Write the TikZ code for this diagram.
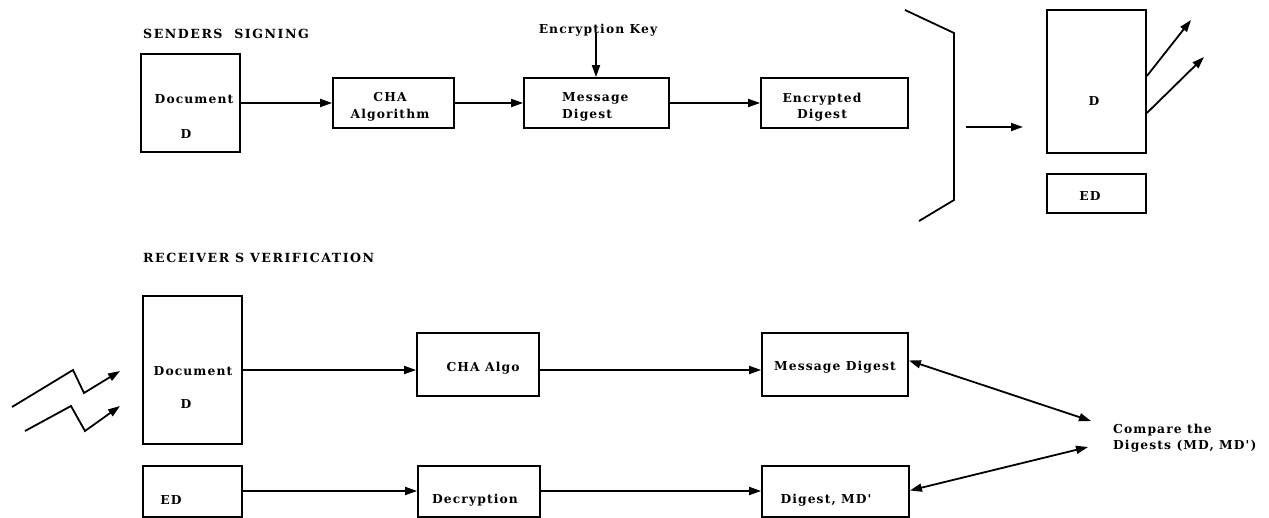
\documentclass[tikz,border=0pt]{standalone}
\usepackage{fontspec}
\usetikzlibrary{arrows.meta}
\newfontfamily\lblfont{DejaVu Serif}[LetterSpace=9]
\newfontfamily\headfont{DejaVu Serif}[LetterSpace=12]
\begin{document}
\begin{tikzpicture}[x=1pt,y=-1pt,
  every node/.style={font=\lblfont\bfseries\fontsize{12.3}{16.5}\selectfont, inner sep=0pt},
  box/.style={draw, line width=1.8pt, rectangle},
  lbl/.style={},
  head/.style={font=\headfont\bfseries\fontsize{12.6}{16}\selectfont},
  conn/.style={line width=1.8pt, -{Triangle[length=12pt,width=8pt]}},
  dconn/.style={line width=1.8pt, {Triangle[length=12pt,width=8pt]}-{Triangle[length=12pt,width=8pt]}},
  plain/.style={line width=1.8pt, line join=miter}]
\useasboundingbox (0,0) rectangle (1269,518);
\newcommand{\bx}[5]{\node[box, minimum width={#4-#2}, minimum height={#5-#3}] (#1) at ({(#2+#4)/2},{(#3+#5)/2}) {};}

% ---------- sender's side ----------
\node[head, anchor=west] (ttop) at (143,34) {SENDERS\ \ SIGNING};

\bx{doc1}{141}{54}{240}{152}
\node[lbl] (doc1t) at (194,99) {Document};
\node[lbl] (doc1d) at (186,134) {D};

\bx{cha1}{333}{78}{454}{128}
\node[lbl, align=center] (cha1t) at (390,107) {CHA\\Algorithm};

\bx{md1}{524}{78}{669}{128}
\node[lbl, align=left, anchor=west] (md1t) at (562,107) {Message\\Digest};

\bx{enc1}{761}{78}{908}{128}
\node[lbl, align=center] (enc1t) at (822,107) {Encrypted\\Digest};

\node[lbl] (key) at (598,30) {Encryption Key};
\coordinate (keyin) at (596,33);

\draw[conn] (doc1.east) -- (cha1.west);
\draw[conn] (cha1.east) -- (md1.west);
\draw[conn] (md1.east) -- (enc1.west);
\draw[conn] (keyin) -- (keyin |- md1.north);

% bracket and transmitted bundle
\coordinate (brA) at (905,10);
\coordinate (brB) at (954,33);
\coordinate (brC) at (954,200);
\coordinate (brD) at (919,221);
\draw[plain] (brA) -- (brB) -- (brC) -- (brD);

\coordinate (sendA) at (966,127);
\coordinate (sendB) at (1023,127);
\draw[conn] (sendA) -- (sendB);

\bx{dbox}{1047}{10}{1146}{153}
\node[lbl] (dboxt) at (1094,101) {D};
\bx{edbox}{1047}{174}{1146}{213}
\node[lbl] (edboxt) at (1090,196) {ED};

\coordinate (outA) at (1191,20);
\coordinate (outB) at (1204,57);
\draw[conn] ([yshift=5.5pt]dbox.east) -- (outA);
\draw[conn] ([yshift=-31.5pt]dbox.east) -- (outB);

% ---------- receiver's side ----------
\node[head, anchor=west] (tbot) at (143,258) {RECEIVER S VERIFICATION};

\bx{doc2}{143}{296}{242}{444}
\node[lbl] (doc2t) at (193,371) {Document};
\node[lbl] (doc2d) at (186,404) {D};

\bx{cha2}{417}{333}{539}{396}
\node[lbl] (cha2t) at (483,368) {CHA Algo};

\bx{md2}{762}{333}{908}{396}
\node[lbl] (md2t) at (835,367) {Message Digest};

\bx{ed2}{143}{466}{242}{517}
\node[lbl] (ed2t) at (171,500) {ED};

\bx{dec}{418}{466}{540}{517}
\node[lbl] (dect) at (475,500) {Decryption};

\bx{mdp}{762}{466}{909}{517}
\node[lbl] (mdpt) at (826,500) {Digest, MD'};

\draw[conn] (doc2.east) -- (cha2.west |- doc2.east);
\draw[conn] (cha2.east |- doc2.east) -- (md2.west |- doc2.east);
\draw[conn] ([yshift=0.5pt]ed2.east) -- ([yshift=0.5pt]dec.west);
\draw[conn] ([yshift=0.5pt]dec.east) -- ([yshift=0.5pt]mdp.west);

% incoming signals
\coordinate (zA1) at (12,407);
\coordinate (zA2) at (73,370);
\coordinate (zA3) at (84,393);
\coordinate (zA4) at (120,371);
\coordinate (zB1) at (25,431);
\coordinate (zB2) at (71,406);
\coordinate (zB3) at (85,431);
\coordinate (zB4) at (120,406);
\draw[conn, line join=miter] (zA1) -- (zA2) -- (zA3) -- (zA4);
\draw[conn, line join=miter] (zB1) -- (zB2) -- (zB3) -- (zB4);

% comparison
\node[lbl, align=left, anchor=west] (cmp) at (1113,438) {Compare the\\Digests (MD, MD')};
\coordinate (cmpA) at (1091,421);
\coordinate (cmpB) at (1088,447);
\draw[dconn] ([yshift=4pt]md2.east) -- (cmpA);
\draw[dconn] ([yshift=1pt]mdp.east) -- (cmpB);
\end{tikzpicture}
\end{document}
